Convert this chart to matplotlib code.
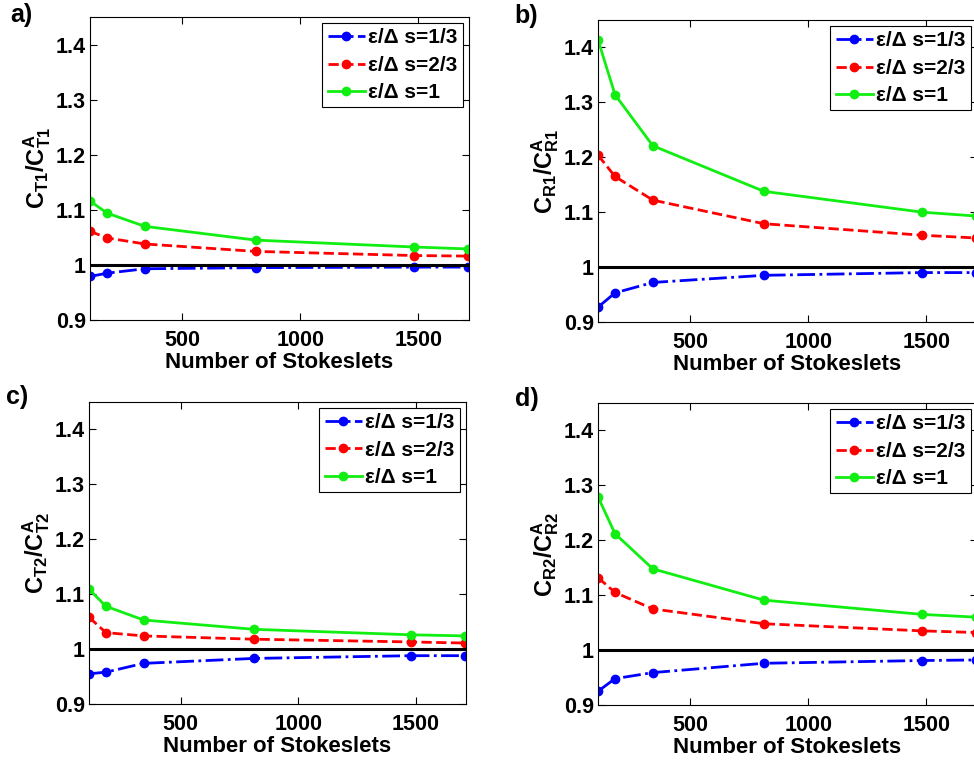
import matplotlib
matplotlib.use('Agg')
import matplotlib.pyplot as plt

plt.rcParams['font.family'] = ['Liberation Sans', 'DejaVu Sans']
plt.rcParams['font.weight'] = 'bold'
plt.rcParams['mathtext.fontset'] = 'custom'
plt.rcParams['mathtext.rm'] = 'Liberation Sans:bold'
plt.rcParams['mathtext.bf'] = 'Liberation Sans:bold'
plt.rcParams['mathtext.it'] = 'Liberation Sans:bold'
plt.rcParams['mathtext.default'] = 'bf'

# number of stokeslets (same for all panels)
n_stokeslets = [110, 182, 342, 812, 1482, 1710]

# panel a) C_T1
a_s13 = [0.979, 0.985, 0.993, 0.995, 0.996, 0.996]
a_s23 = [1.061, 1.049, 1.038, 1.0245, 1.017, 1.016]
a_s1 = [1.116, 1.094, 1.070, 1.045, 1.0325, 1.029]

# panel b) C_R1
b_s13 = [0.927, 0.953, 0.972, 0.985, 0.990, 0.990]
b_s23 = [1.204, 1.165, 1.122, 1.079, 1.058, 1.053]
b_s1 = [1.414, 1.314, 1.221, 1.138, 1.100, 1.093]

# panel c) C_T2
c_s13 = [0.955, 0.958, 0.974, 0.983, 0.988, 0.988]
c_s23 = [1.058, 1.030, 1.024, 1.018, 1.013, 1.011]
c_s1 = [1.109, 1.078, 1.053, 1.036, 1.026, 1.024]

# panel d) C_R2
d_s13 = [0.925, 0.948, 0.959, 0.976, 0.981, 0.982]
d_s23 = [1.132, 1.105, 1.075, 1.048, 1.035, 1.032]
d_s1 = [1.279, 1.212, 1.148, 1.091, 1.065, 1.060]

legend_labels = ['ε/Δ s=1/3', 'ε/Δ s=2/3', 'ε/Δ s=1']
y_ticks = [0.9, 1.0, 1.1, 1.2, 1.3, 1.4]
y_ticklabels = ['0.9', '1', '1.1', '1.2', '1.3', '1.4']
x_ticks = [500, 1000, 1500]

panels = [
    ('a)', r'$C_{T1}/C^{A}_{T1}$', a_s13, a_s23, a_s1, [90, 17, 469, 320], (10, 15)),
    ('b)', r'$C_{R1}/C^{A}_{R1}$', b_s13, b_s23, b_s1, [598, 20, 977, 322], (514, 16)),
    ('c)', r'$C_{T2}/C^{A}_{T2}$', c_s13, c_s23, c_s1, [89, 402, 466, 704], (6, 397)),
    ('d)', r'$C_{R2}/C^{A}_{R2}$', d_s13, d_s23, d_s1, [598, 403, 977, 705], (515, 399)),
]

W, H = 974, 760
fig = plt.figure(figsize=(W / 100, H / 100), dpi=100)

for tag, ylab, s13, s23, s1, box, tagpos in panels:
    x0, y0, x1, y1 = box
    ax = fig.add_axes([x0 / W, 1 - y1 / H, (x1 - x0) / W, (y1 - y0) / H])
    ax.plot(n_stokeslets, s13, '-.', color='#0000ff', marker='o', ms=6, lw=2, label=legend_labels[0])
    ax.plot(n_stokeslets, s23, '--', color='#ff0000', marker='o', ms=6, lw=2, label=legend_labels[1])
    ax.plot(n_stokeslets, s1, '-', color='#11ee11', marker='o', ms=6, lw=2, label=legend_labels[2])
    ax.axhline(1.0, color='black', lw=2.2)
    ax.set_xlim(n_stokeslets[0], n_stokeslets[-1] + 4)
    ax.set_ylim(0.9, 1.45)
    ax.set_xticks(x_ticks)
    ax.set_yticks(y_ticks)
    ax.set_yticklabels(y_ticklabels)
    ax.tick_params(direction='in', top=True, right=True, labelsize=15.5, length=5)
    ax.tick_params(axis='x', pad=7)
    ax.tick_params(axis='y', pad=3)
    for lbl in ax.get_xticklabels() + ax.get_yticklabels():
        lbl.set_fontweight('bold')
    ax.set_xlabel('Number of Stokeslets', fontsize=16, fontweight='bold', labelpad=1)
    ax.set_ylabel(ylab, fontsize=17, labelpad=2)
    leg = ax.legend(loc='upper right', fontsize=15, frameon=True, fancybox=False,
                    edgecolor='black', framealpha=1, handlelength=1.8,
                    borderaxespad=0.3, borderpad=0.25, labelspacing=0.4, handletextpad=0.15)
    leg.get_frame().set_linewidth(0.8)
    for t in leg.get_texts():
        t.set_fontweight('bold')
    for s in ax.spines.values():
        s.set_linewidth(0.8)
    fig.text(tagpos[0] / W, 1 - tagpos[1] / H, tag, fontsize=18, fontweight='bold', va='center', ha='left')

fig.savefig('out.png', dpi=100)
